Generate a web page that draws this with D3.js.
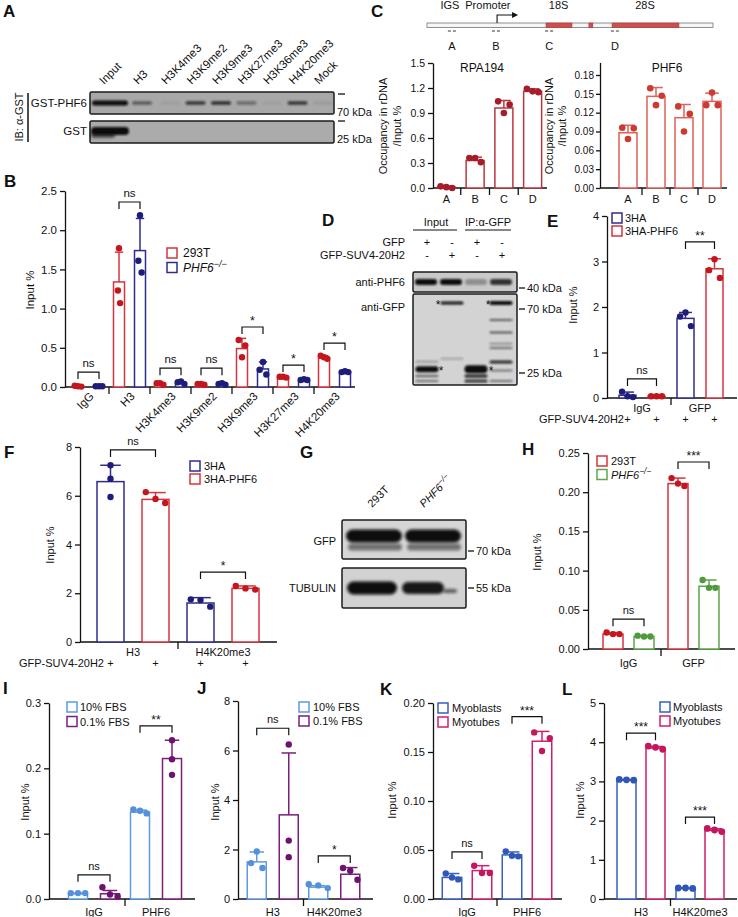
<!DOCTYPE html>
<html><head><meta charset="utf-8">
<script src="https://cdn.jsdelivr.net/npm/d3@7/dist/d3.min.js"></script>
<style>
html,body{margin:0;padding:0;background:#fff;}
svg text{font-family:'Liberation Sans',Arial,Helvetica,sans-serif;fill:#111;}
</style></head><body>
<svg id="fig" width="738" height="917" viewBox="0 0 738 917"></svg>
<script>
// ================= DATA =================
// Panel A (pull-down blot): band intensities per lane
const aLanes = ["Input","H3","H3K4me3","H3K9me2","H3K9me3","H3K27me3","H3K36me3","H4K20me3","Mock"];
const aPHF6Band = [1.0,0.5,0.06,0.75,0.8,0.4,0.05,0.75,0.08];
const aGSTBand  = [1.0,0,0,0,0,0,0,0,0];

// Panel B
const bGroups = ["IgG","H3","H3K4me3","H3K9me2","H3K9me3","H3K27me3","H4K20me3"];
const b293T    = [0.01,1.34,0.04,0.03,0.49,0.12,0.37];
const b293TSD  = [0.005,0.38,0.01,0.01,0.13,0.01,0.03];
const b293TPts = [[0.015,0.01,0.005],[1.23,1.77,1.07],[0.05,0.05,0.03],[0.04,0.04,0.03],[0.60,0.38,0.53],[0.13,0.13,0.12],[0.40,0.38,0.36]];
const bKO      = [0.01,1.74,0.05,0.04,0.23,0.08,0.19];
const bKOSD    = [0.005,0.41,0.01,0.01,0.09,0.01,0.01];
const bKOPts   = [[0.01,0.01,0.01],[1.61,2.19,1.46],[0.06,0.07,0.04],[0.04,0.05,0.03],[0.22,0.32,0.16],[0.09,0.10,0.09],[0.19,0.20,0.19]];
const bSig     = ["ns","ns","ns","ns","*","*","*"];
const bSigLvl  = [0.19,2.36,0.24,0.24,0.765,0.28,0.56];

// Panel C
const cRegions = ["A","B","C","D"];
const cRPA     = [0.01,0.33,0.96,1.16];
const cRPASD   = [0.01,0.04,0.09,0.03];
const cRPAPts  = [[0.02,0.01,0.0],[0.36,0.36,0.31],[1.04,0.90,1.00],[1.19,1.16,1.15]];
const cPHF6    = [0.088,0.146,0.112,0.138];
const cPHF6SD  = [0.012,0.014,0.021,0.013];
const cPHF6Pts = [[0.096,0.078,0.095],[0.159,0.132,0.147],[0.130,0.090,0.118],[0.132,0.152,0.132]];
// rDNA map (relative units 0-100 along the unit)
const rdnaRNA    = [{n:"18S",s:41.6,e:50.7},{n:"5.8S",s:56.6,e:58.0},{n:"28S",s:64.7,e:88.1}];
const rdnaLabels = [{n:"IGS",p:8},{n:"Promoter",p:21.3},{n:"18S",p:46},{n:"28S",p:76.2}];
const rdnaPrimers = [{n:"A",p:8.7},{n:"B",p:24.1},{n:"C",p:42.7},{n:"D",p:65.7}];
const rdnaTSS = 24.5;

// Panel D (co-IP blot)
const dHeader  = ["Input","IP:α-GFP"];
const dGFPRow  = ["+","-","+","-"];
const dSUVRow  = ["-","+","-","+"];
const dPHF6Band = [1.0,1.0,0.3,0.8];
// [lane, kDa, intensity, thickness]
const dGFPBands = [[0,26.6,1,6],[0,30,0.3,2],[0,23.8,0.6,2],[0,22,0.5,2],
                   [1,77,0.95,3],[1,31.5,0.25,2],
                   [2,26.6,1,8],[2,23.8,0.9,3],[2,22,0.8,3],
                   [3,77,1,4],[3,58.7,0.6,2],[3,48,0.6,2],[3,40,0.35,2],[3,37.4,0.5,2],[3,29.8,0.85,3],[3,26,0.45,2],[3,22,0.5,2]];
const dStars = [[1,77,"L"],[3,77,"L"],[0,26.6,"R"],[2,26.6,"R"]];

// Panel E
const eGroups = ["IgG","GFP"];
const e3HA    = [0.06,1.75];   const e3HASD = [0.07,0.13];
const e3HAPts = [[0.14,0.04,0.02],[1.79,1.88,1.58]];
const ePHF6   = [0.04,2.84];   const ePHF6SD = [0.005,0.22];
const ePHF6Pts= [[0.04,0.04,0.04],[2.81,3.05,2.64]];

// Panel F
const fGroups = ["H3","H4K20me3"];
const f3HA    = [6.58,1.60];   const f3HASD = [0.67,0.22];
const f3HAPts = [[7.25,6.70,5.95],[1.75,1.72,1.45]];
const fPHF6   = [5.85,2.20];   const fPHF6SD = [0.28,0.10];
const fPHF6Pts= [[6.15,5.87,5.70],[2.30,2.20,2.15]];

// Panel G (western)
const gLanes = ["293T","PHF6"];
const gGFPBand = [1.0,1.0];
const gTUBBand = [1.0,0.95];

// Panel H
const hGroups = ["IgG","GFP"];
const h293T   = [0.019,0.211]; const h293TSD = [0.002,0.007];
const h293TPts= [[0.021,0.019,0.019],[0.218,0.211,0.208]];
const hKO     = [0.016,0.080]; const hKOSD = [0.001,0.008];
const hKOPts  = [[0.017,0.016,0.016],[0.088,0.078,0.078]];

// Panel I
const iGroups = ["IgG","PHF6"];
const i10     = [0.008,0.133]; const i10SD = [0.001,0.003];
const i10Pts  = [[0.009,0.009,0.009],[0.137,0.135,0.131]];
const i01     = [0.008,0.215]; const i01SD = [0.005,0.028];
const i01Pts  = [[0.018,0.007,0.004],[0.243,0.214,0.190]];

// Panel J
const jGroups = ["H3","H4K20me3"];
const j10     = [1.50,0.48];   const j10SD = [0.40,0.06];
const j10Pts  = [[1.45,1.92,1.25],[0.60,0.55,0.44]];
const j01     = [3.40,1.00];   const j01SD = [2.50,0.27];
const j01Pts  = [[6.24,2.36,1.69],[1.25,1.14,0.78]];

// Panel K
const kGroups = ["IgG","PHF6"];
const kMB     = [0.022,0.045]; const kMBSD = [0.004,0.003];
const kMBPts  = [[0.026,0.022,0.020],[0.0486,0.0442,0.0435]];
const kMT     = [0.029,0.161]; const kMTSD = [0.005,0.010];
const kMTPts  = [[0.034,0.0265,0.0265],[0.170,0.151,0.164]];

// Panel L
const lGroups = ["H3","H4K20me3"];
const lMB     = [3.03,0.27];   const lMBSD = [0.02,0.01];
const lMBPts  = [[3.05,3.04,3.03],[0.28,0.28,0.27]];
const lMT     = [3.85,1.75];   const lMTSD = [0.04,0.04];
const lMTPts  = [[3.90,3.87,3.82],[1.80,1.76,1.72]];

// ================= STYLE =================
const RED="#d4343c", REDD="#c4161f", NAVY="#2e2c8c", NAVYD="#1f1d7a",
      GREEN="#5da649", GREEND="#4f9a3d", LBLUE="#5b9ae4", LBLUED="#5590dd",
      PURP="#7a1f7c", PURPD="#6b136e", BLUE="#3560c0", BLUED="#3157b6",
      PINK="#cf1f6c", PINKD="#c4165f", CRED="#b8383f", CREDD="#a51c2a",
      CRED2="#df6158", CRED2D="#cc3a33";

const svg=d3.select("#fig");
svg.append("rect").attr("width",738).attr("height",917).attr("fill","#fff");
const defs=svg.append("defs");
[["bl1",1.0],["bl2",1.6],["bl3",2.4]].forEach(([id,s])=>{
  defs.append("filter").attr("id",id).attr("x","-50%").attr("y","-200%").attr("width","200%").attr("height","500%")
   .append("feGaussianBlur").attr("stdDeviation",s);
});

function T(g,x,y,s,o={}){
  const t=g.append("text").attr("x",x).attr("y",y).attr("font-size",o.fs||11)
    .attr("text-anchor",o.a||"start");
  if(o.b) t.attr("font-weight","bold");
  if(o.i) t.attr("font-style","italic");
  if(o.r!==undefined) t.attr("transform",`rotate(${o.r},${x},${y})`);
  if(o.sup){ t.append("tspan").text(s); t.append("tspan").attr("dy",-4.5).attr("font-size",(o.fs||11)*0.75).text(o.sup); }
  else t.text(s);
  return t;
}
function L(g,x1,y1,x2,y2,c,w){ g.append("line").attr("x1",x1).attr("y1",y1).attr("x2",x2).attr("y2",y2).attr("stroke",c||"#111").attr("stroke-width",w||1.3); }

function chart(c){
  const g=svg.append("g");
  const fs=c.fs||11;
  const y=d3.scaleLinear().domain([0,c.yMax]).range([c.y0,c.yTop]);
  const x=d3.scaleBand().domain(c.groups).range(c.xRange);
  const keys=c.series.map(s=>s.key);
  const sub=d3.scalePoint().domain(keys).range(keys.length>1?[-c.off,c.off]:[0,0]);
  const center=(gr,k)=>x(gr)+x.bandwidth()/2+(keys.length>1?sub(k):0);
  const ya=d3.axisLeft(y).tickValues(c.ticks).tickFormat(d3.format(c.fmt)).tickSize(c.tickSize||5).tickPadding(c.tickPad||3).tickSizeOuter(0);
  const ga=g.append("g").attr("transform",`translate(${c.ax},0)`).call(ya);
  ga.selectAll("text").attr("font-size",c.tickFs||fs).attr("fill","#111").attr("font-family",null);
  ga.selectAll("line,path").attr("stroke","#111").attr("stroke-width",1.3);
  L(g,c.ax,c.y0,c.axEnd,c.y0);
  c.groups.slice(1).forEach(gr=>L(g,x(gr),c.y0,x(gr),c.y0+7));
  c.groups.forEach(gr=>{
    const cx=x(gr)+x.bandwidth()/2;
    if(c.lab.rot) T(g,cx+c.lab.dx,c.lab.y,gr,{a:"end",r:-45,fs:c.lab.fs||fs});
    else T(g,cx,c.lab.y,gr,{a:"middle",fs:c.lab.fs||fs});
  });
  c.series.forEach(s=>{
    c.groups.forEach((gr,gi)=>{
      const cx=center(gr,s.key), v=s.mean[gi], e=s.sd[gi];
      g.append("rect").attr("x",cx-c.bw/2).attr("y",y(v)).attr("width",c.bw).attr("height",Math.max(0,c.y0-y(v)))
        .attr("fill","#fff").attr("stroke",s.color).attr("stroke-width",1.5);
      L(g,cx,y(v),cx,y(v+e),s.color,1.5);
      L(g,cx-c.bw*0.38,y(v+e),cx+c.bw*0.38,y(v+e),s.color,1.5);
    });
  });
  c.series.forEach(s=>{
    c.groups.forEach((gr,gi)=>{
      const cx=center(gr,s.key);
      const sp=s.spread?s.spread[gi]:0.32;
      s.pts[gi].forEach((p,pi)=>{
        g.append("circle").attr("cx",cx+(pi-1)*sp*c.bw).attr("cy",y(p)).attr("r",c.r||3.2).attr("fill",s.dot);
      });
    });
  });
  (c.brackets||[]).forEach(b=>{
    const xa=center(c.groups[b.g],keys[0]), xb=center(c.groups[b.g],keys[1]), yy=y(b.v);
    g.append("path").attr("d",`M${xa},${yy+7}V${yy}H${xb}V${yy+7}`).attr("fill","none").attr("stroke","#111").attr("stroke-width",1.2);
    T(g,(xa+xb)/2,b.t==="ns"?yy-5:yy-2,b.t,{a:"middle",fs:b.t==="ns"?fs:fs+1});
  });
  if(c.legend){
    const lg=c.legend;
    c.series.forEach((s,i)=>{
      const yy=lg.y+i*lg.dy;
      g.append("rect").attr("x",lg.x).attr("y",yy-5).attr("width",10).attr("height",10).attr("fill","none").attr("stroke",s.color).attr("stroke-width",1.5);
      T(g,lg.x+lg.tx,yy+4,s.label,{fs:lg.fs||11,i:!!s.sup,sup:s.sup});
    });
  }
  if(c.ylab){
    c.ylab.lines.forEach((ln,i)=>T(g,c.ylab.x[i],c.ylab.y,ln,{a:"middle",r:-90,fs:c.ylab.fs||fs}));
  }
  if(c.title) T(g,c.title.x,c.title.y,c.title.t,{a:"middle",fs:c.title.fs||12});
  return {x,y,center};
}

function box(x,y,w,h,fill){ svg.append("rect").attr("x",x).attr("y",y).attr("width",w).attr("height",h).attr("fill",fill).attr("stroke","#1b1b1b").attr("stroke-width",1.5).attr("rx",1.5); }
function band(cx,cy,w,h,op,bl){ if(op<=0) return; svg.append("rect").attr("x",cx-w/2).attr("y",cy-h/2).attr("width",w).attr("height",h).attr("rx",Math.min(h/2,w/2)).attr("fill","#0a0a0a").attr("opacity",op).attr("filter",`url(#${bl||"bl1"})`); }
function kda(x,y,lab){ L(svg,x,y,x+6,y,"#111",1.3); T(svg,x+8,y+4,lab,{fs:11}); }

// ================= PANEL LETTERS =================
[["A",3,17],["B",4,187],["C",371,17],["D",322,226],["E",547,227],["F",4,458],["G",300,458],["H",522,455],["I",3,694],["J",197,694],["K",380,695],["L",562,695]]
 .forEach(([t,x,y])=>T(svg,x,y,t,{b:true,fs:17}));

// ================= PANEL A =================
{
  const lx=d3.scaleLinear().domain([0,1,2,8]).range([108,142,170,323]);
  box(90,92,244,22,"#a8a8a8"); box(90,121,244,22,"#ababab");
  aLanes.forEach((l,i)=>{
    band(i===0?110:lx(i),103,i===0?36:20,i===0?5:3.5,aPHF6Band[i],"bl1");
    if(aGSTBand[i]>0){ band(110,131,38,8,aGSTBand[i],"bl1"); band(103,135,24,5,0.7,"bl2"); }
    T(svg,lx(i)-4,85,l,{r:-45,fs:11.5});
  });
  T(svg,87,107,"GST-PHF6",{a:"end",fs:11.5});
  T(svg,87,135,"GST",{a:"end",fs:11.5});
  T(svg,23,117,"IB: α-GST",{a:"middle",r:-90,fs:11});
  L(svg,28,93,28,142,"#111",1.5);
  L(svg,338,94,345,94); T(svg,337,116,"70 kDa",{fs:11});
  L(svg,338,121,345,121); T(svg,337,143,"25 kDa",{fs:11});
}

// ================= PANEL B =================
chart({ax:65,axEnd:355,y0:387,yTop:191,yMax:2.5,ticks:[0,0.5,1,1.5,2,2.5],fmt:".1f",fs:11.5,
  groups:bGroups,xRange:[68,355],off:10.5,bw:11,
  lab:{rot:true,y:397,dx:6,fs:11.5},
  series:[{key:"293T",label:"293T",mean:b293T,sd:b293TSD,pts:b293TPts,color:RED,dot:REDD,spread:[0.3,0.1,0.3,0.3,0.3,0.3,0.3]},
          {key:"KO",label:"PHF6",sup:"−/−",mean:bKO,sd:bKOSD,pts:bKOPts,color:NAVY,dot:NAVYD,spread:[0.3,0.15,0.3,0.3,0.3,0.3,0.3]}],
  brackets:bGroups.map((g,i)=>({g:i,v:bSigLvl[i],t:bSig[i]})),
  legend:{x:167,y:253,dy:14.5,tx:16,fs:12},
  ylab:{lines:["Input %"],x:[34],y:290}
});

// ================= PANEL C =================
{
  const rx=d3.scaleLinear().domain([0,100]).range([427,713]);
  svg.append("rect").attr("x",rx(0)).attr("y",23).attr("width",rx(100)-rx(0)).attr("height",4.5).attr("fill","#f6f6f6").attr("stroke","#777").attr("stroke-width",0.8);
  rdnaRNA.forEach(r=>svg.append("rect").attr("x",rx(r.s)).attr("y",23).attr("width",rx(r.e)-rx(r.s)).attr("height",4.5).attr("fill","#cf4f4a").attr("stroke","#a33").attr("stroke-width",0.5));
  rdnaLabels.forEach(l=>T(svg,rx(l.p),9,l.n,{a:"middle",fs:11}));
  const tx=rx(rdnaTSS);
  svg.append("path").attr("d",`M${tx},23V15H${tx+16}`).attr("fill","none").attr("stroke","#111").attr("stroke-width",1.1);
  svg.append("path").attr("d",`M${tx+21},15L${tx+15},12L${tx+15},18Z`).attr("fill","#111");
  rdnaPrimers.forEach(p=>{
    const px=rx(p.p);
    L(svg,px-4,31,px-1,31,"#333",1); L(svg,px+1,31,px+4,31,"#333",1);
    T(svg,px,50,p.n,{a:"middle",fs:11});
  });
}
chart({ax:433,axEnd:547,y0:188,yTop:63,yMax:1.5,ticks:[0,0.3,0.6,0.9,1.2,1.5],fmt:".1f",tickFs:10.5,
  groups:cRegions,xRange:[432,547],off:0,bw:18,r:3.3,
  lab:{rot:false,y:203},
  series:[{key:"RPA194",mean:cRPA,sd:cRPASD,pts:cRPAPts,color:CRED,dot:CREDD}],
  ylab:{lines:["Occupancy in rDNA","/Input %"],x:[387,401],y:126},
  title:{x:482,y:72,t:"RPA194"}
});
chart({ax:600,axEnd:727,y0:188,yTop:188-0.2*(113/0.18),yMax:0.2,ticks:[0,0.03,0.06,0.09,0.12,0.15,0.18],fmt:".2f",tickFs:10,tickSize:4,tickPad:2,
  groups:cRegions,xRange:[614,726],off:0,bw:18,r:3.3,
  lab:{rot:false,y:203},
  series:[{key:"PHF6",mean:cPHF6,sd:cPHF6SD,pts:cPHF6Pts,color:CRED2,dot:CRED2D}],
  ylab:{lines:["Occupancy in rDNA","/Input %"],x:[553,566],y:126},
  title:{x:667,y:72,t:"PHF6"}
});

// ================= PANEL D =================
{
  const lane=d3.scalePoint().domain([0,1,2,3]).range([427,502]);
  T(svg,436,226,dHeader[0],{a:"middle",fs:11}); L(svg,413,230,457,230,"#111",1.2);
  T(svg,488,226,dHeader[1],{a:"middle",fs:11}); L(svg,465,230,511,230,"#111",1.2);
  T(svg,405,246,"GFP",{a:"end",fs:11});
  T(svg,405,259,"GFP-SUV4-20H2",{a:"end",fs:11});
  dGFPRow.forEach((s,i)=>T(svg,lane(i),246,s,{a:"middle",fs:11}));
  dSUVRow.forEach((s,i)=>T(svg,lane(i),259,s,{a:"middle",fs:11}));
  box(413,272,104,20,"#c9c9c9");
  box(413,294,104,91,"#d3d3d3");
  dPHF6Band.forEach((v,i)=>band(lane(i)-1,282,22,6,v,"bl1"));
  const mw=d3.scaleLog().domain([25,70]).range([373,309]);
  dGFPBands.forEach(([ln,k,v,h])=>band(lane(ln)-(ln>=2?1:0),mw(k),23,h,v,"bl1"));
  dStars.forEach(([ln,k,side])=>T(svg,lane(ln)+(side==="L"?-14:14),mw(k)+6,"*",{a:"middle",fs:12}));
  T(svg,405,286,"anti-PHF6",{a:"end",fs:11});
  T(svg,405,311,"anti-GFP",{a:"end",fs:11});
  kda(519,288,"40 kDa"); kda(519,309,"70 kDa"); kda(519,373,"25 kDa");
}

// ================= PANEL E =================
{
  const e=chart({ax:607,axEnd:737,y0:398,yTop:216,yMax:4,ticks:[0,1,2,3,4],fmt:"d",
    groups:eGroups,xRange:[613,729],off:14.5,bw:17,
    lab:{rot:false,y:412},
    series:[{key:"3HA",label:"3HA",mean:e3HA,sd:e3HASD,pts:e3HAPts,color:NAVY,dot:NAVYD},
            {key:"3HA-PHF6",label:"3HA-PHF6",mean:ePHF6,sd:ePHF6SD,pts:ePHF6Pts,color:RED,dot:REDD}],
    brackets:[{g:0,v:0.42,t:"ns"},{g:1,v:3.43,t:"**"}],
    legend:{x:612,y:218,dy:13,tx:13},
    ylab:{lines:["Input %"],x:[577],y:305}
  });
  T(svg,624,423,"GFP-SUV4-20H2",{a:"end",fs:11});
  eGroups.forEach(g=>["3HA","3HA-PHF6"].forEach(k=>T(svg,e.center(g,k),423,"+",{a:"middle",fs:11})));
}

// ================= PANEL F =================
{
  const f=chart({ax:80,axEnd:277,y0:642,yTop:447,yMax:8,ticks:[0,2,4,6,8],fmt:"d",
    groups:fGroups,xRange:[88,268],off:22.5,bw:27,
    lab:{rot:false,y:656},
    series:[{key:"3HA",label:"3HA",mean:f3HA,sd:f3HASD,pts:f3HAPts,color:NAVY,dot:NAVYD,spread:[0,0.36]},
            {key:"3HA-PHF6",label:"3HA-PHF6",mean:fPHF6,sd:fPHF6SD,pts:fPHF6Pts,color:RED,dot:REDD,spread:[0.36,0.36]}],
    brackets:[{g:0,v:7.88,t:"ns"},{g:1,v:2.87,t:"*"}],
    legend:{x:190,y:466,dy:13,tx:14},
    ylab:{lines:["Input %"],x:[54],y:545}
  });
  T(svg,19,667,"GFP-SUV4-20H2",{fs:11});
  fGroups.forEach(g=>["3HA","3HA-PHF6"].forEach(k=>T(svg,f.center(g,k),667,"+",{a:"middle",fs:11})));
}

// ================= PANEL G =================
{
  const lane=d3.scalePoint().domain(gLanes).range([375,432]);
  T(svg,lane("293T")-3,508,"293T",{r:-45,fs:11});
  T(svg,lane("PHF6")-8,508,"PHF6",{r:-45,fs:11,i:true,sup:"−/−"});
  box(342,520,124,39,"#d6d6d6");
  box(342,568,124,40,"#d2d2d2");
  gGFPBand.forEach((v,i)=>{ band(lane(gLanes[i])-1+i*2,536,56,13,v,"bl2"); band(lane(gLanes[i])+i*2,547,54,7,0.5,"bl2"); });
  band(372,588,50,13,gTUBBand[0],"bl2"); band(423,588,42,12,gTUBBand[1],"bl2"); band(450,591,14,4,0.6,"bl2");
  T(svg,336,545,"GFP",{a:"end",fs:11});
  T(svg,336,592,"TUBULIN",{a:"end",fs:11});
  kda(468,551,"70 kDa"); kda(468,588,"55 kDa");
}

// ================= PANEL H =================
chart({ax:588,axEnd:735,y0:649,yTop:453,yMax:0.25,ticks:[0,0.05,0.1,0.15,0.2,0.25],fmt:".2f",
  groups:hGroups,xRange:[596,726],off:15.5,bw:20,
  lab:{rot:false,y:667},
  series:[{key:"293T",label:"293T",mean:h293T,sd:h293TSD,pts:h293TPts,color:RED,dot:REDD},
          {key:"KO",label:"PHF6",sup:"−/−",mean:hKO,sd:hKOSD,pts:hKOPts,color:GREEN,dot:GREEND}],
  brackets:[{g:0,v:0.038,t:"ns"},{g:1,v:0.2385,t:"***"}],
  legend:{x:597,y:461,dy:13.5,tx:14},
  ylab:{lines:["Input %"],x:[541],y:552}
});

// ================= PANEL I =================
chart({ax:49,axEnd:195,y0:899,yTop:703,yMax:0.3,ticks:[0,0.1,0.2,0.3],fmt:".1f",
  groups:iGroups,xRange:[63,187],off:16,bw:19,
  lab:{rot:false,y:916},
  series:[{key:"10",label:"10% FBS",mean:i10,sd:i10SD,pts:i10Pts,color:LBLUE,dot:LBLUED,spread:[0.38,0.35]},
          {key:"01",label:"0.1% FBS",mean:i01,sd:i01SD,pts:i01Pts,color:PURP,dot:PURPD,spread:[0.4,0]}],
  brackets:[{g:0,v:0.037,t:"ns"},{g:1,v:0.265,t:"**"}],
  legend:{x:67,y:707,dy:14.5,tx:13},
  ylab:{lines:["Input %"],x:[29],y:802}
});

// ================= PANEL J =================
chart({ax:238,axEnd:373,y0:899,yTop:701,yMax:8,ticks:[0,2,4,6,8],fmt:"d",
  groups:jGroups,xRange:[242,365],off:16,bw:19,
  lab:{rot:false,y:916},
  series:[{key:"10",label:"10% FBS",mean:j10,sd:j10SD,pts:j10Pts,color:LBLUE,dot:LBLUED,spread:[0.3,0.5]},
          {key:"01",label:"0.1% FBS",mean:j01,sd:j01SD,pts:j01Pts,color:PURP,dot:PURPD,spread:[0,0.38]}],
  brackets:[{g:0,v:6.9,t:"ns"},{g:1,v:1.74,t:"*"}],
  legend:{x:299,y:707,dy:14,tx:14},
  ylab:{lines:["Input %"],x:[219],y:802}
});

// ================= PANEL K =================
chart({ax:433,axEnd:562,y0:899,yTop:703,yMax:0.2,ticks:[0,0.05,0.1,0.15,0.2],fmt:".2f",
  groups:kGroups,xRange:[437,557],off:15,bw:19.5,
  lab:{rot:false,y:916},
  series:[{key:"MB",label:"Myoblasts",mean:kMB,sd:kMBSD,pts:kMBPts,color:BLUE,dot:BLUED},
          {key:"MT",label:"Myotubes",mean:kMT,sd:kMTSD,pts:kMTPts,color:PINK,dot:PINKD,spread:[0.4,0.4]}],
  brackets:[{g:0,v:0.048,t:"ns"},{g:1,v:0.186,t:"***"}],
  legend:{x:438,y:708,dy:14,tx:14},
  ylab:{lines:["Input %"],x:[396],y:800}
});

// ================= PANEL L =================
chart({ax:604,axEnd:737,y0:899,yTop:703,yMax:5,ticks:[0,1,2,3,4,5],fmt:"d",
  groups:lGroups,xRange:[611.5,729.5],off:14.5,bw:19,r:3.4,
  lab:{rot:false,y:916},
  series:[{key:"MB",label:"Myoblasts",mean:lMB,sd:lMBSD,pts:lMBPts,color:BLUE,dot:BLUED,spread:[0.38,0.38]},
          {key:"MT",label:"Myotubes",mean:lMT,sd:lMTSD,pts:lMTPts,color:PINK,dot:PINKD,spread:[0.38,0.38]}],
  brackets:[{g:0,v:4.23,t:"***"},{g:1,v:2.09,t:"***"}],
  legend:{x:660,y:707,dy:14,tx:13},
  ylab:{lines:["Input %"],x:[584],y:800}
});
</script></body></html>
